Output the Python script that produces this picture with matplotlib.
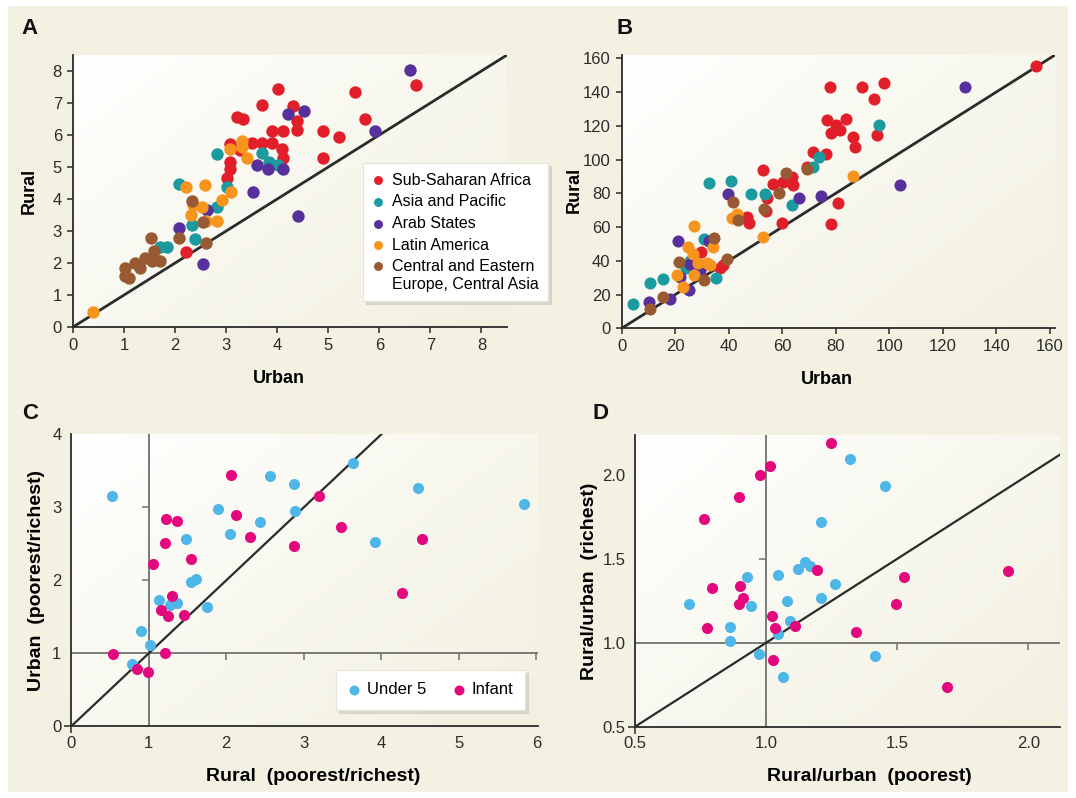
import numpy as np
import matplotlib
matplotlib.use("Agg")
from matplotlib import pyplot as plt
from matplotlib.colors import LinearSegmentedColormap
from matplotlib.patches import Rectangle
from matplotlib.markers import TICKDOWN, TICKLEFT

plt.rcParams['font.family'] = ['Liberation Sans', 'DejaVu Sans']

# ---- panel A: urban vs rural (ratio) ----
africa_A_urban = [4.01, 3.70, 4.31, 3.21, 3.33, 4.39, 4.39, 3.90, 4.11, 4.90, 3.50, 3.70, 3.90,
                  3.08, 3.27, 4.09, 4.12, 4.90, 3.08, 3.08, 3.01, 2.22, 5.53, 5.21, 5.71, 6.71]
africa_A_rural = [7.43, 6.93, 6.91, 6.57, 6.49, 6.45, 6.16, 6.12, 6.12, 6.12, 5.74, 5.74, 5.74,
                  5.71, 5.53, 5.55, 5.27, 5.27, 5.17, 4.93, 4.65, 2.35, 7.34, 5.94, 6.50, 7.55]
asia_A_urban = [2.83, 3.71, 3.83, 4.01, 2.08, 3.01, 2.82, 2.33, 2.39, 1.71, 1.84]
asia_A_rural = [5.41, 5.43, 5.17, 5.06, 4.47, 4.38, 3.76, 3.19, 2.75, 2.49, 2.49]
arab_A_urban = [6.61, 4.22, 4.52, 5.91, 4.11, 4.40, 3.60, 3.81, 3.52, 2.62, 2.08, 2.54]
arab_A_rural = [8.03, 6.65, 6.76, 6.12, 4.94, 3.48, 5.06, 4.94, 4.23, 3.66, 3.08, 1.97]
latin_A_urban = [3.31, 3.31, 3.08, 3.41, 2.22, 2.59, 3.09, 2.92, 2.35, 2.52, 2.31, 2.61, 2.83, 0.40]
latin_A_rural = [5.82, 5.63, 5.55, 5.27, 4.36, 4.44, 4.23, 3.97, 3.81, 3.74, 3.50, 3.32, 3.32, 0.48]
ceeca_A_urban = [2.33, 2.54, 1.52, 2.08, 2.60, 1.59, 1.41, 1.54, 1.71, 1.22, 1.31, 1.02, 1.02, 1.10]
ceeca_A_rural = [3.95, 3.29, 2.77, 2.77, 2.64, 2.38, 2.15, 2.07, 2.07, 1.99, 1.83, 1.83, 1.59, 1.52]

# ---- panel B: urban vs rural (rates) ----
africa_B_urban = [77.8, 76.6, 80.3, 78.4, 71.6, 76.3, 69.1, 52.9, 56.6, 60.4, 63.5, 63.9, 54.2, 53.9,
                  46.7, 47.7, 60.0, 80.9, 78.4, 29.5, 37.7, 36.7, 90.0, 98.0, 94.2, 84.0, 81.5, 86.5,
                  87.1, 95.5, 155.0]
africa_B_rural = [143.2, 123.4, 120.5, 115.9, 104.3, 103.3, 95.8, 93.8, 85.3, 86.9, 89.8, 84.9, 77.0,
                  69.7, 66.1, 62.2, 62.2, 74.4, 61.8, 45.4, 37.5, 35.5, 143.2, 145.2, 135.7, 123.8,
                  117.5, 113.2, 107.6, 114.5, 155.4]
asia_B_urban = [96.2, 73.8, 71.6, 32.7, 40.7, 48.3, 53.5, 63.5, 30.7, 4.3, 10.6, 15.5, 35.2, 25.5, 24.0]
asia_B_rural = [120.5, 101.7, 95.8, 86.3, 87.3, 79.6, 79.6, 73.1, 52.7, 14.4, 26.7, 29.0, 30.0, 40.1, 35.5]
arab_B_urban = [128.2, 104.0, 74.7, 39.8, 66.3, 21.1, 32.7, 25.5, 29.2, 21.8, 25.3, 10.3, 18.0]
arab_B_rural = [143.2, 84.9, 78.2, 79.4, 77.4, 51.7, 51.9, 37.9, 34.5, 30.6, 22.7, 15.8, 17.2]
latin_B_urban = [86.3, 27.0, 41.1, 43.0, 52.7, 24.9, 26.7, 34.2, 28.6, 31.8, 33.0, 20.5, 27.0, 23.0]
latin_B_rural = [90.3, 60.8, 65.2, 67.6, 54.3, 48.4, 44.0, 48.4, 38.5, 38.5, 37.5, 31.6, 31.6, 24.3]
ceeca_B_urban = [61.6, 69.3, 58.9, 41.7, 53.2, 43.6, 34.6, 21.4, 39.2, 30.9, 15.3, 10.6]
ceeca_B_rural = [91.8, 94.2, 80.0, 75.0, 70.5, 64.2, 53.3, 39.1, 40.9, 28.6, 18.4, 11.3]

region_names = ["Sub-Saharan Africa", "Asia and Pacific", "Arab States", "Latin America",
                "Central and Eastern\nEurope, Central Asia"]
region_colors = ["#e11f2a", "#1b9aa0", "#57309b", "#f7941e", "#985a33"]

# ---- panel C: rural vs urban (poorest/richest) ----
u5_C_rural = [0.52, 1.89, 2.56, 2.87, 2.89, 2.44, 2.05, 1.48, 1.55, 1.61, 1.13, 1.27, 1.36, 1.75,
              0.90, 1.02, 0.78, 3.64, 4.47, 5.84, 3.92]
u5_C_urban = [3.16, 2.98, 3.43, 3.32, 2.95, 2.80, 2.63, 2.56, 1.98, 2.02, 1.73, 1.66, 1.69, 1.64,
              1.31, 1.12, 0.85, 3.61, 3.27, 3.05, 2.53]
inf_C_rural = [2.06, 2.13, 1.22, 1.37, 2.31, 1.21, 2.87, 1.55, 1.06, 1.30, 1.16, 1.25, 1.45, 0.54,
               1.21, 0.85, 0.99, 3.20, 3.48, 4.53, 4.27]
inf_C_urban = [3.44, 2.89, 2.84, 2.81, 2.59, 2.51, 2.47, 2.29, 2.23, 1.79, 1.59, 1.51, 1.52, 0.99,
               1.00, 0.78, 0.75, 3.16, 2.73, 2.56, 1.82]

# ---- panel D: rural/urban (poorest) vs rural/urban (richest) ----
u5_D_poor = [1.209, 1.148, 1.167, 1.123, 1.263, 0.926, 1.047, 1.079, 1.208, 0.706, 0.942, 0.862,
             1.091, 1.047, 0.862, 0.974, 1.063, 1.320, 1.453, 1.415]
u5_D_rich = [1.722, 1.483, 1.460, 1.438, 1.350, 1.394, 1.402, 1.251, 1.265, 1.231, 1.221, 1.092,
             1.130, 1.051, 1.013, 0.931, 0.798, 2.094, 1.934, 0.921]
inf_D_poor = [1.248, 1.015, 0.977, 0.897, 0.764, 1.195, 0.792, 0.900, 0.913, 0.898, 0.773, 1.024,
              1.034, 1.110, 1.027, 1.527, 1.921, 1.495, 1.342, 1.691]
inf_D_rich = [2.189, 2.054, 2.000, 1.871, 1.738, 1.434, 1.328, 1.340, 1.265, 1.229, 1.086, 1.160,
              1.086, 1.100, 0.897, 1.390, 1.430, 1.231, 1.066, 0.738]

blue = "#4fb7e8"
pink = "#e4087e"
dark = "#2b2b2b"
grey = "#707070"

W, H = 1076, 798
fig = plt.figure(figsize=(W / 100, H / 100), dpi=100)
fig.patch.set_facecolor("white")
fig.patches.append(Rectangle((8 / W, 6 / H), 1 - 16 / W, 1 - 12 / H, transform=fig.transFigure,
                             facecolor="#f3f2e2", edgecolor="none", zorder=-10))

bg_cmap = LinearSegmentedColormap.from_list("bg", ["#ffffff", "#f2f0df"])


def px_axes(x0, x1, y0, y1):
    # x0,x1,y0,y1 in image pixels (y from top)
    return fig.add_axes([x0 / W, 1 - y1 / H, (x1 - x0) / W, (y1 - y0) / H])


def style(ax):
    gx, gy = np.meshgrid(np.linspace(0, 1, 200), np.linspace(0, 1, 200))
    ax.imshow(0.55 * gx + 0.45 * gy, extent=[0, 1, 0, 1], transform=ax.transAxes,
              cmap=bg_cmap, aspect="auto", zorder=0, origin="upper")
    ax.set_facecolor("none")
    for s in ["top", "right"]:
        ax.spines[s].set_visible(False)
    for s in ["left", "bottom"]:
        ax.spines[s].set_color(dark)
        ax.spines[s].set_linewidth(1.3)
    ax.tick_params(labelsize=12, colors=dark, length=4, width=1.1, pad=4)


def panel_letter(x, y, s):
    fig.text(x / W, 1 - y / H, s, fontsize=16, fontweight="bold", ha="center", va="center",
             color="#111111")


# ---------------- A ----------------
axA = px_axes(73, 507, 55, 327)
style(axA)
axA.axline((0, 0), slope=1, color=dark, lw=2.0, zorder=2)
groupsA = [(africa_A_urban, africa_A_rural), (asia_A_urban, asia_A_rural), (arab_A_urban, arab_A_rural),
           (latin_A_urban, latin_A_rural), (ceeca_A_urban, ceeca_A_rural)]
for (gx, gy), c, name in zip(groupsA, region_colors, region_names):
    axA.scatter(gx, gy, s=80, color=c, linewidths=0, zorder=3, label=name)
axA.set_xlim(0, 8.5)
axA.set_ylim(0, 8.5)
axA.set_xticks(range(0, 9))
axA.set_yticks(range(0, 9))
axA.set_xlabel("Urban", fontsize=13, fontweight="bold", va="center")
axA.set_ylabel("Rural", fontsize=13, fontweight="bold", va="center")
axA.xaxis.set_label_coords(0.475, -0.188)
axA.yaxis.set_label_coords(-0.101, 0.5)
leg = axA.legend(loc="upper left", bbox_to_anchor=(0.668, 0.603), borderaxespad=0, fontsize=11.5,
                 frameon=True, fancybox=False, markerscale=0.72, handlelength=0.7, handletextpad=0.5,
                 labelspacing=0.42, borderpad=0.6,
                 shadow={"color": "#cfcdbd", "alpha": 0.7, "ox": 2, "oy": -2})
leg.get_frame().set_edgecolor("#e6e4d6")
leg.get_frame().set_linewidth(0.8)
leg.set_zorder(5)
# put the two-line entry's dot beside its first line
try:
    rows = leg._legend_handle_box.get_children()[0].get_children()
    rows[-1].align = "top"
except (AttributeError, IndexError):
    pass
panel_letter(30, 29, "A")

# ---------------- B ----------------
axB = px_axes(621.7, 1055, 55, 328.3)
style(axB)
axB.axline((0, 0), slope=1, color=dark, lw=2.0, zorder=2)
groupsB = [(africa_B_urban, africa_B_rural), (asia_B_urban, asia_B_rural), (arab_B_urban, arab_B_rural),
           (latin_B_urban, latin_B_rural), (ceeca_B_urban, ceeca_B_rural)]
for (gx, gy), c in zip(groupsB, region_colors):
    axB.scatter(gx, gy, s=76, color=c, linewidths=0, zorder=3)
axB.set_xlim(0, 162)
axB.set_ylim(0, 162)
axB.set_xticks(range(0, 161, 20))
axB.set_yticks(range(0, 161, 20))
axB.set_xlabel("Urban", fontsize=13, fontweight="bold", va="center")
axB.set_ylabel("Rural", fontsize=13, fontweight="bold", va="center")
axB.xaxis.set_label_coords(0.474, -0.189)
axB.yaxis.set_label_coords(-0.110, 0.506)
panel_letter(625, 29, "B")


def cross_panel(ax, x0, y0, xticks_line, yticks_line):
    ax.axhline(1, color=grey, lw=1.3, zorder=1)
    ax.axvline(1, color=grey, lw=1.3, zorder=1)
    ax.tick_params(length=0, pad=7)
    ax.plot(xticks_line, [1] * len(xticks_line), ls="none", marker=TICKDOWN, ms=5, mew=1.1,
            color=grey, zorder=1)
    ax.plot([1] * len(yticks_line), yticks_line, ls="none", marker=TICKLEFT, ms=5, mew=1.1,
            color=grey, zorder=1)
    ax.plot([x0], [y0], ls="none", marker=TICKDOWN, ms=5, mew=1.1, color=dark, clip_on=False)
    ax.plot([x0], [y0], ls="none", marker=TICKLEFT, ms=5, mew=1.1, color=dark, clip_on=False)


# ---------------- C ----------------
axC = px_axes(71.2, 538, 434.3, 726.3)
style(axC)
cross_panel(axC, 0, 0, [2, 3, 4, 5, 6], [2, 3])
axC.axline((0, 0), slope=1, color=dark, lw=1.6, zorder=2)
axC.scatter(u5_C_rural, u5_C_urban, s=64, color=blue, linewidths=0, zorder=3, label="Under 5")
axC.scatter(inf_C_rural, inf_C_urban, s=64, color=pink, linewidths=0, zorder=3, label="Infant")
axC.set_xlim(0, 6.02)
axC.set_ylim(0, 4)
axC.set_xticks(range(0, 7))
axC.set_yticks(range(0, 5))
axC.set_xlabel("Rural  (poorest/richest)", fontsize=14, fontweight="bold", va="center")
axC.set_ylabel("Urban  (poorest/richest)", fontsize=14, fontweight="bold", va="center")
axC.xaxis.set_label_coords(0.518, -0.171)
axC.yaxis.set_label_coords(-0.075, 0.50)
legC = axC.legend(loc="upper left", bbox_to_anchor=(0.567, 0.193), borderaxespad=0, ncol=2,
                  fontsize=12, frameon=True, fancybox=False, markerscale=0.9, handlelength=0.7,
                  handletextpad=0.4, columnspacing=1.6, borderpad=0.75,
                  shadow={"color": "#cfcdbd", "alpha": 0.7, "ox": 2, "oy": -2})
legC.get_frame().set_edgecolor("#e6e4d6")
legC.get_frame().set_linewidth(0.8)
legC.set_zorder(5)
panel_letter(30, 413, "C")

# ---------------- D ----------------
axD = px_axes(635, 1060, 435, 726.7)
style(axD)
cross_panel(axD, 0.5, 0.5, [1.5, 2.0], [1.5, 2.0])
axD.axline((0.5, 0.5), slope=1, color=dark, lw=1.6, zorder=2)
axD.scatter(u5_D_poor, u5_D_rich, s=64, color=blue, linewidths=0, zorder=3)
axD.scatter(inf_D_poor, inf_D_rich, s=64, color=pink, linewidths=0, zorder=3)
axD.set_xlim(0.5, 2.121)
axD.set_ylim(0.5, 2.238)
axD.set_xticks([0.5, 1.0, 1.5, 2.0])
axD.set_yticks([0.5, 1.0, 1.5, 2.0])
axD.set_xticklabels(["0.5", "1.0", "1.5", "2.0"])
axD.set_yticklabels(["0.5", "1.0", "1.5", "2.0"])
axD.set_xlabel("Rural/urban  (poorest)", fontsize=14, fontweight="bold", va="center")
axD.set_ylabel("Rural/urban  (richest)", fontsize=14, fontweight="bold", va="center")
axD.xaxis.set_label_coords(0.552, -0.170)
axD.yaxis.set_label_coords(-0.106, 0.50)
panel_letter(601, 413, "D")

fig.savefig("out.png", dpi=100)
